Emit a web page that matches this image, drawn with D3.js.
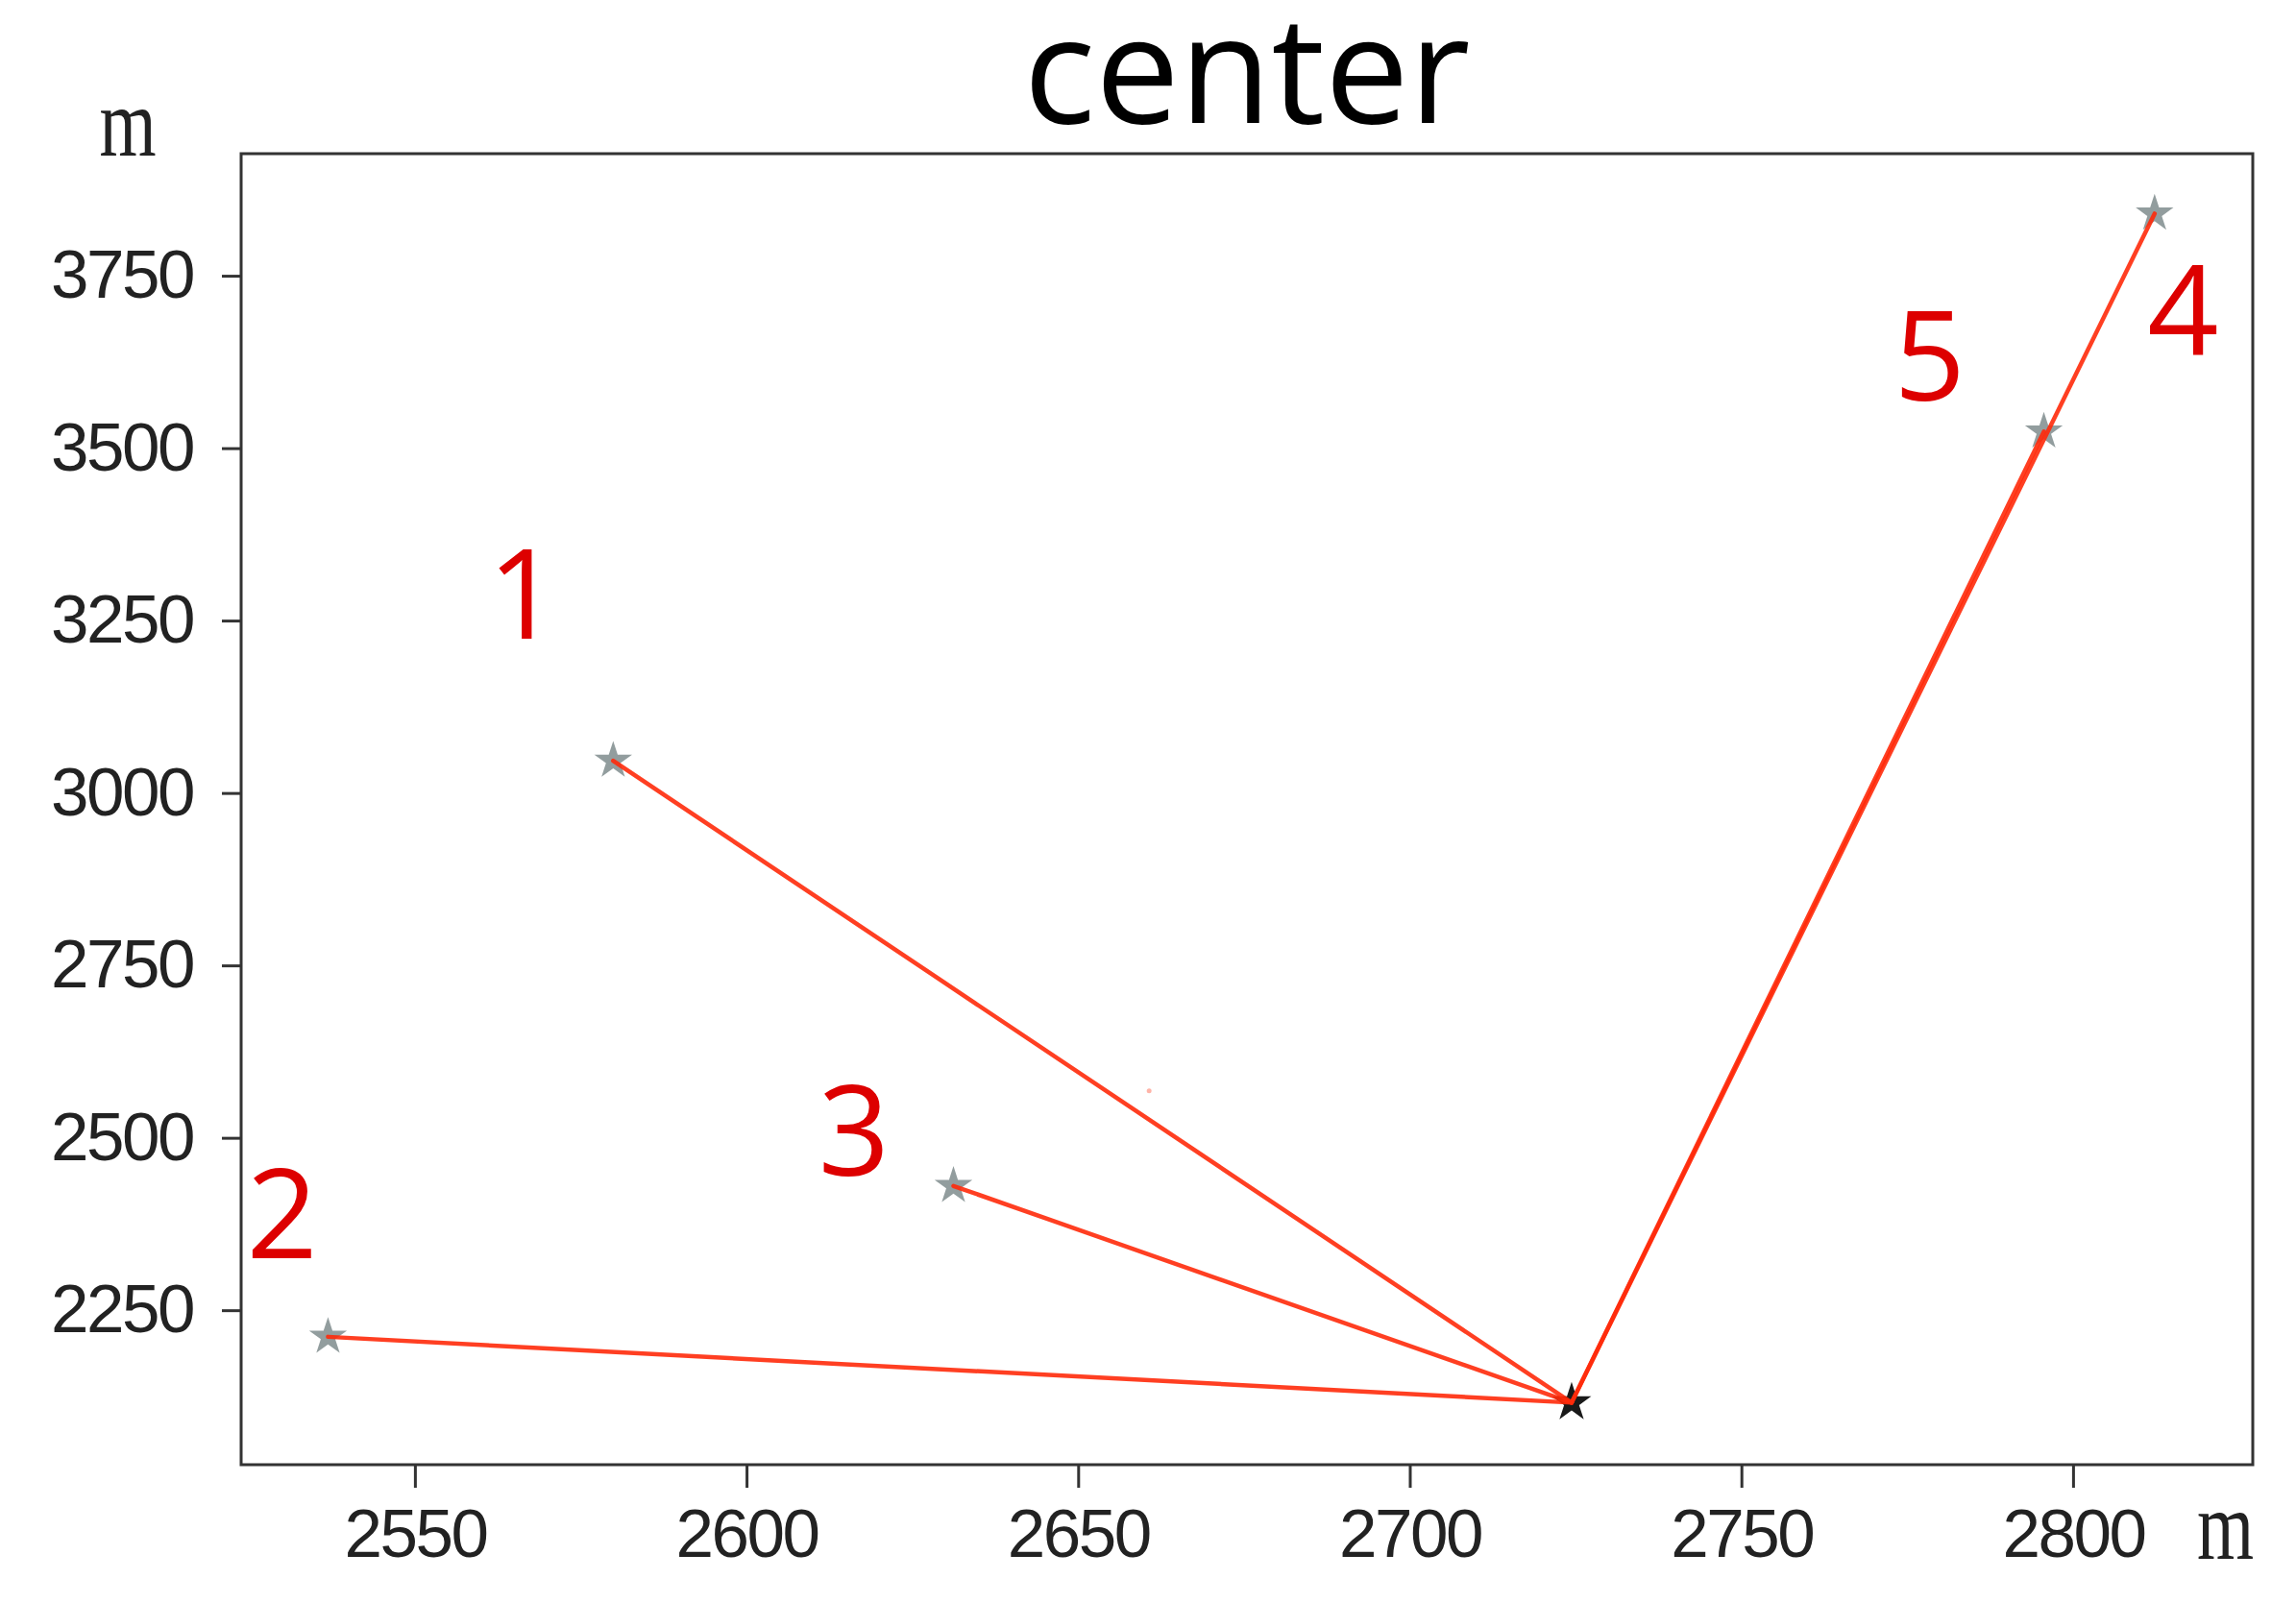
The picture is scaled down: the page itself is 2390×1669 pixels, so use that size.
<!DOCTYPE html>
<html>
<head>
<meta charset="utf-8">
<script src="https://cdn.jsdelivr.net/npm/d3@7"></script>
<style>
  html, body { margin: 0; padding: 0; background: #ffffff; }
  svg { display: block; }
</style>
</head>
<body>
<svg id="chart" width="2390" height="1669"></svg>
<script>
// ---------- data ----------
const titleText = "center";
const centerPoint = [2724.4, 2116];
const stationNames = ["1", "2", "3", "4", "5"];
const stationX = [2579.9, 2536.9, 2631.2, 2812.3, 2795.6];
const stationY = [3046.7, 2211.4, 2430.2, 3840, 3524];
const labelX = [2561.0, 2524.6, 2610.8, 2811.2, 2773.0];
const labelY = [3223.5, 2325, 2445, 3634.4, 3569];
const strayX = [2660.7];
const strayY = [2568];
const xLimits = [2523.8, 2827.1];
const yLimits = [2026, 3927];
const xTicks = [2550, 2600, 2650, 2700, 2750, 2800];
const yTicks = [2250, 2500, 2750, 3000, 3250, 3500, 3750];
const unitLabel = "m";

// ---------- layout ----------
const plot = { left: 251, right: 2345, top: 160, bottom: 1525 };

const svg = d3.select("#chart");

const x = d3.scaleLinear().domain(xLimits).range([plot.left, plot.right]);
const y = d3.scaleLinear().domain(yLimits).range([plot.bottom, plot.top]);

const tickFont = "'Liberation Sans', 'DejaVu Sans', sans-serif";
const labelFont = "'Open Sans', 'Noto Sans', sans-serif";

svg.append("defs").append("clipPath").attr("id", "clip")
  .append("rect")
  .attr("x", plot.left).attr("y", plot.top)
  .attr("width", plot.right - plot.left).attr("height", plot.bottom - plot.top);

// ---------- axes ----------
const xAxis = d3.axisBottom(x).tickValues(xTicks).tickFormat(d3.format("d"))
  .tickSize(24).tickPadding(22);
const yAxis = d3.axisLeft(y).tickValues(yTicks).tickFormat(d3.format("d"))
  .tickSize(20).tickPadding(30);

const gx = svg.append("g").attr("transform", `translate(0,${plot.bottom})`).call(xAxis);
const gy = svg.append("g").attr("transform", `translate(${plot.left},0)`).call(yAxis);

[gx, gy].forEach(g => {
  g.select(".domain").remove();
  g.selectAll(".tick line").attr("stroke", "#333").attr("stroke-width", 3);
  g.selectAll(".tick text")
    .attr("fill", "#222")
    .style("font-family", tickFont)
    .style("font-size", "71px")
    .style("letter-spacing", "-2.5px");
});

// ---------- marks ----------
const marks = svg.append("g").attr("clip-path", "url(#clip)");

const stations = stationNames.map((n, i) => ({ name: n, x: stationX[i], y: stationY[i], lx: labelX[i], ly: labelY[i] }));

marks.selectAll("circle.stray").data(strayX.map((v, i) => ({ x: v, y: strayY[i] })))
  .enter().append("circle")
  .attr("cx", d => x(d.x)).attr("cy", d => y(d.y)).attr("r", 2.5)
  .attr("fill", "#ffb4a8");

const star = d3.symbol().type(d3.symbolStar).size(480);
marks.selectAll("path.outer").data(stations).enter().append("path")
  .attr("d", star)
  .attr("transform", d => `translate(${x(d.x)},${y(d.y)})`)
  .attr("fill", "#7f8c8d")
  .attr("opacity", 0.85);

marks.append("path")
  .attr("d", d3.symbol().type(d3.symbolStar).size(520))
  .attr("transform", `translate(${x(centerPoint[0])},${y(centerPoint[1])})`)
  .attr("fill", "#1a1a1a");

const line = d3.line().x(d => x(d[0])).y(d => y(d[1]));
marks.selectAll("path.link").data(stations).enter().append("path")
  .attr("d", d => line([centerPoint, [d.x, d.y]]))
  .attr("fill", "none")
  .attr("stroke", "#ff2a0a")
  .attr("stroke-width", 4.5)
  .attr("stroke-opacity", 0.9)
  .attr("stroke-linecap", "round");

svg.selectAll("text.station").data(stations).enter().append("text")
  .attr("x", d => x(d.lx)).attr("y", d => y(d.ly))
  .attr("fill", "#dd0000")
  .style("font-family", labelFont)
  .style("font-size", "130px")
  .text(d => d.name);

// ---------- frame ----------
svg.append("rect")
  .attr("x", plot.left).attr("y", plot.top)
  .attr("width", plot.right - plot.left).attr("height", plot.bottom - plot.top)
  .attr("fill", "none").attr("stroke", "#333").attr("stroke-width", 3);

// ---------- title ----------
svg.append("text")
  .attr("x", (plot.left + plot.right) / 2).attr("y", 128)
  .attr("text-anchor", "middle")
  .attr("fill", "#000")
  .style("font-family", labelFont)
  .style("font-size", "156px")
  .text(titleText);

// ---------- unit labels ----------
svg.append("text")
  .attr("transform", `translate(133,162) scale(1,1.35)`)
  .attr("text-anchor", "middle")
  .attr("fill", "#222")
  .style("font-family", "'Liberation Serif', 'DejaVu Serif', serif")
  .style("font-size", "76px")
  .text(unitLabel);

svg.append("text")
  .attr("transform", `translate(2346,1623) scale(1,1.35)`)
  .attr("text-anchor", "end")
  .attr("fill", "#222")
  .style("font-family", "'Liberation Serif', 'DejaVu Serif', serif")
  .style("font-size", "76px")
  .text(unitLabel);
</script>
</body>
</html>
